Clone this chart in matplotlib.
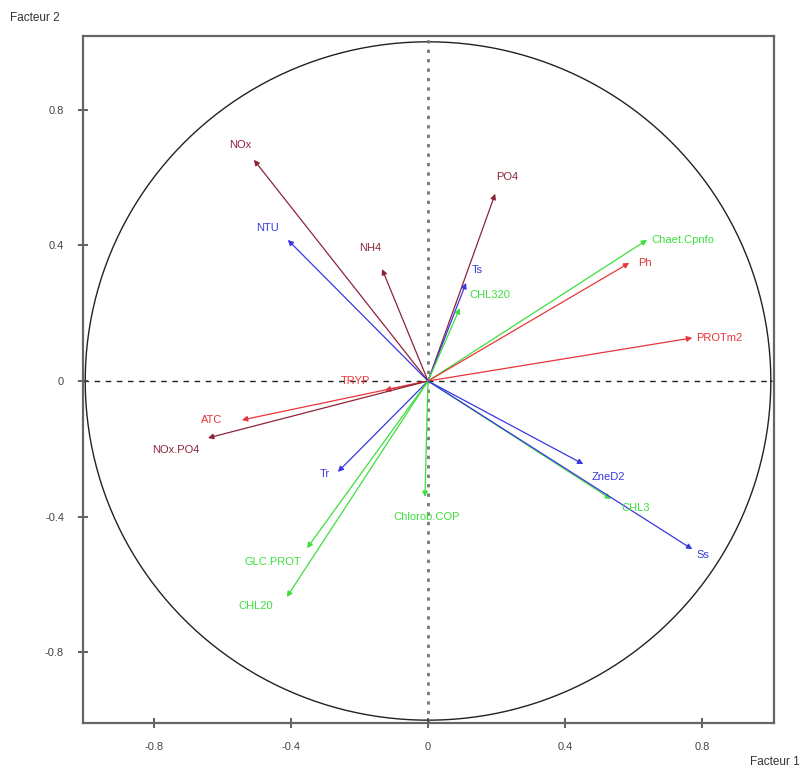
import numpy as np
import matplotlib.pyplot as plt

plt.rcParams['font.family'] = ['Liberation Sans', 'DejaVu Sans']

# Correlation circle: variable coordinates on factors 1 and 2
names = ['NOx', 'PO4', 'NTU', 'NH4', 'Ts', 'CHL320', 'Chaet.Cpnfo', 'Ph',
         'PROTm2', 'TRYP', 'ATC', 'NOx.PO4', 'Tr', 'Chlorob.COP',
         'GLC.PROT', 'CHL20', 'ZneD2', 'CHL3', 'Ss']
f1 = [-0.508, 0.196, -0.409, -0.134, 0.111, 0.093, 0.639, 0.587,
      0.771, -0.126, -0.543, -0.642, -0.263, -0.009,
      -0.353, -0.412, 0.453, 0.534, 0.771]
f2 = [0.652, 0.552, 0.416, 0.330, 0.289, 0.215, 0.416, 0.348,
      0.127, -0.027, -0.115, -0.168, -0.268, -0.342,
      -0.493, -0.637, -0.245, -0.348, -0.496]
groups = ['dark', 'dark', 'blue', 'dark', 'blue', 'green', 'green', 'red',
          'red', 'red', 'red', 'dark', 'blue', 'green',
          'green', 'green', 'blue', 'green', 'blue']

colors = {'dark': '#8c2438', 'red': '#e8353a', 'blue': '#3838e0',
          'green': '#3ede3e'}

# label offsets in pixels (dx, dy, ha)
offsets = {
    'NOx': (-14, 15, 'center'), 'PO4': (12, 17, 'center'),
    'NTU': (-20, 12, 'center'), 'NH4': (-12, 21, 'center'),
    'Ts': (6, 13, 'left'), 'CHL320': (9, 13, 'left'),
    'Chaet.Cpnfo': (4, 0, 'left'), 'Ph': (9, 0, 'left'),
    'PROTm2': (4, 0, 'left'), 'TRYP': (-15, 9, 'right'),
    'ATC': (-20, 0, 'right'), 'NOx.PO4': (-8, -12, 'right'),
    'Tr': (-8, -2, 'right'), 'Chlorob.COP': (2, -20, 'center'),
    'GLC.PROT': (-34, -14, 'center'), 'CHL20': (-31, -9, 'center'),
    'ZneD2': (8, -13, 'left'), 'CHL3': (10, -9, 'left'),
    'Ss': (4, -6, 'left'),
}

fig = plt.figure(figsize=(8.04, 7.76), dpi=100)
ax = fig.add_axes([0.103, 0.068, 0.860, 0.886])
ax.set_xlim(-1.007, 1.01)
ax.set_ylim(-1.009, 1.018)

# unit circle
t = np.linspace(0, 2 * np.pi, 400)
ax.plot(np.cos(t), np.sin(t), color='#222222', lw=1.0, zorder=1)

# axes through the origin
ax.axhline(0, color='#222222', lw=1.0, ls=(0, (4, 4)), zorder=1)
ax.axvline(0, color='#777777', lw=2.0, ls=(0, (1.2, 2.2)), zorder=1)

for n, x, y, g in zip(names, f1, f2, groups):
    c = colors[g]
    ax.annotate('', xy=(x, y), xytext=(0, 0),
                arrowprops=dict(arrowstyle='-|>', color=c, lw=0.9,
                                mutation_scale=8, shrinkA=0, shrinkB=0),
                zorder=3)
    dx, dy, ha = offsets[n]
    ax.annotate(n, xy=(x, y), xytext=(dx, dy), textcoords='offset pixels',
                ha=ha, va='center', color=c, fontsize=8, zorder=4)

ticks = [-0.8, -0.4, 0, 0.4, 0.8]
ax.set_xticks(ticks)
ax.set_yticks(ticks)
ax.set_xticklabels(['-0.8', '-0.4', '0', '0.4', '0.8'])
ax.set_yticklabels(['-0.8', '-0.4', '0', '0.4', '0.8'])
ax.tick_params(direction='inout', length=7, width=1.2, colors='#444444',
               labelsize=8, pad=10)
for s in ax.spines.values():
    s.set_color('#666666')
    s.set_linewidth(1.6)

fig.text(10 / 804, 1 - 18 / 776, 'Facteur 2', fontsize=8.5, color='#333333',
         va='center', ha='left')
fig.text(800 / 804, 1 - 762 / 776, 'Facteur 1', fontsize=8.5, color='#333333',
         va='center', ha='right')

fig.savefig('out.png', dpi=100)
